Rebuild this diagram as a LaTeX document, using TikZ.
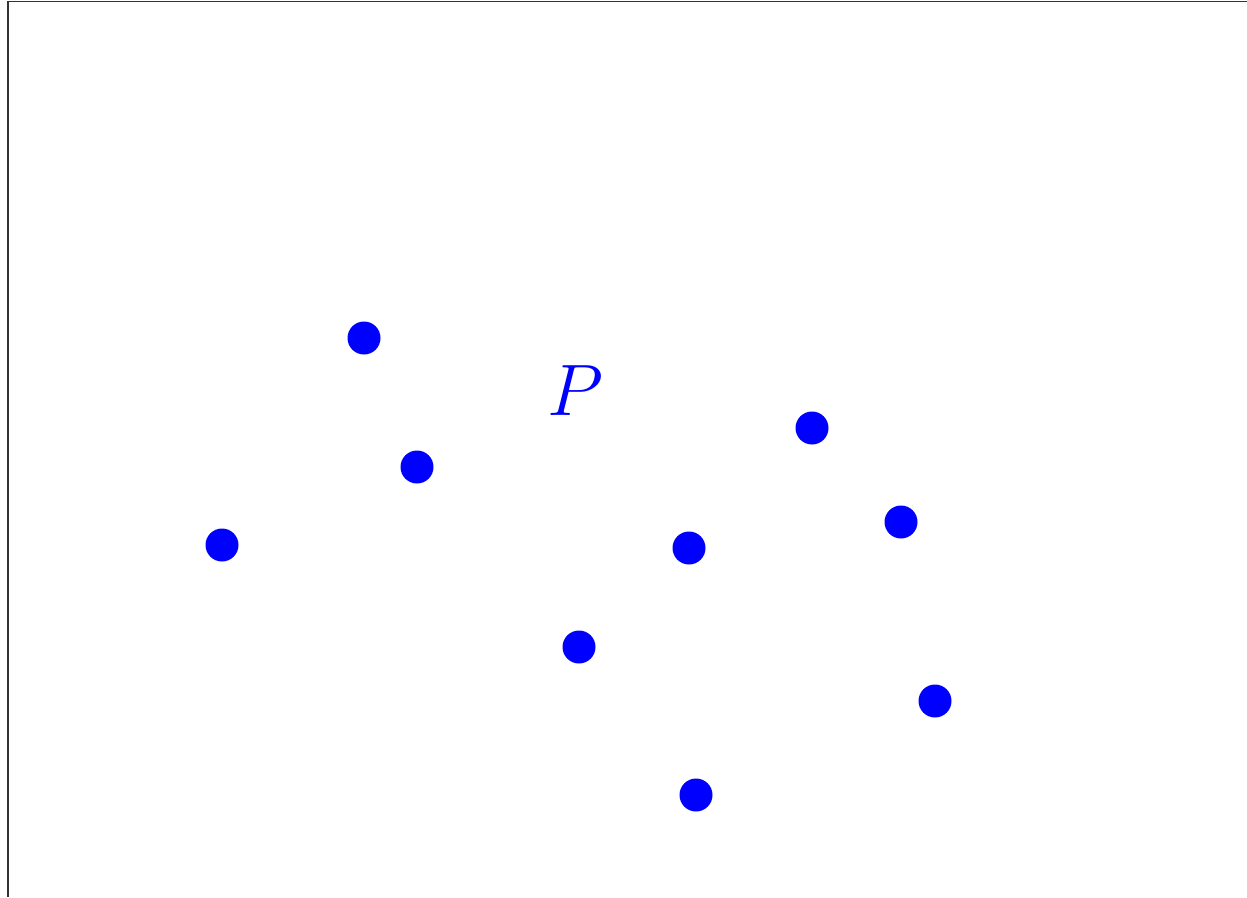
\documentclass[tikz,border=0pt]{standalone}
\usepackage{tikz}

\begin{document}
\begin{tikzpicture}[
    x=1cm, y=1cm,
    dot/.style={circle, fill=blue, inner sep=0pt, minimum size=0.33cm},
    frame/.style={draw=black!80, line width=0.45pt}
]
    \useasboundingbox (0,0) rectangle (12.47,8.97);

    % Frame
    \draw[frame] (0.08,0) -- (0.08,8.955) -- (12.47,8.955);

    % Points
    \node[dot] (a) at (3.64,5.59) {};
    \node[dot] (b) at (4.17,4.30) {};
    \node[dot] (c) at (2.22,3.52) {};
    \node[dot] (d) at (8.12,4.69) {};
    \node[dot] (e) at (9.01,3.75) {};
    \node[dot] (f) at (6.89,3.49) {};
    \node[dot] (g) at (5.79,2.50) {};
    \node[dot] (h) at (9.35,1.96) {};
    \node[dot] (i) at (6.96,1.02) {};

    % Label
    \node[text=blue, font=\fontsize{22.5}{27}\selectfont] (lbl) at (5.75,5.06) {$P$};
\end{tikzpicture}
\end{document}
